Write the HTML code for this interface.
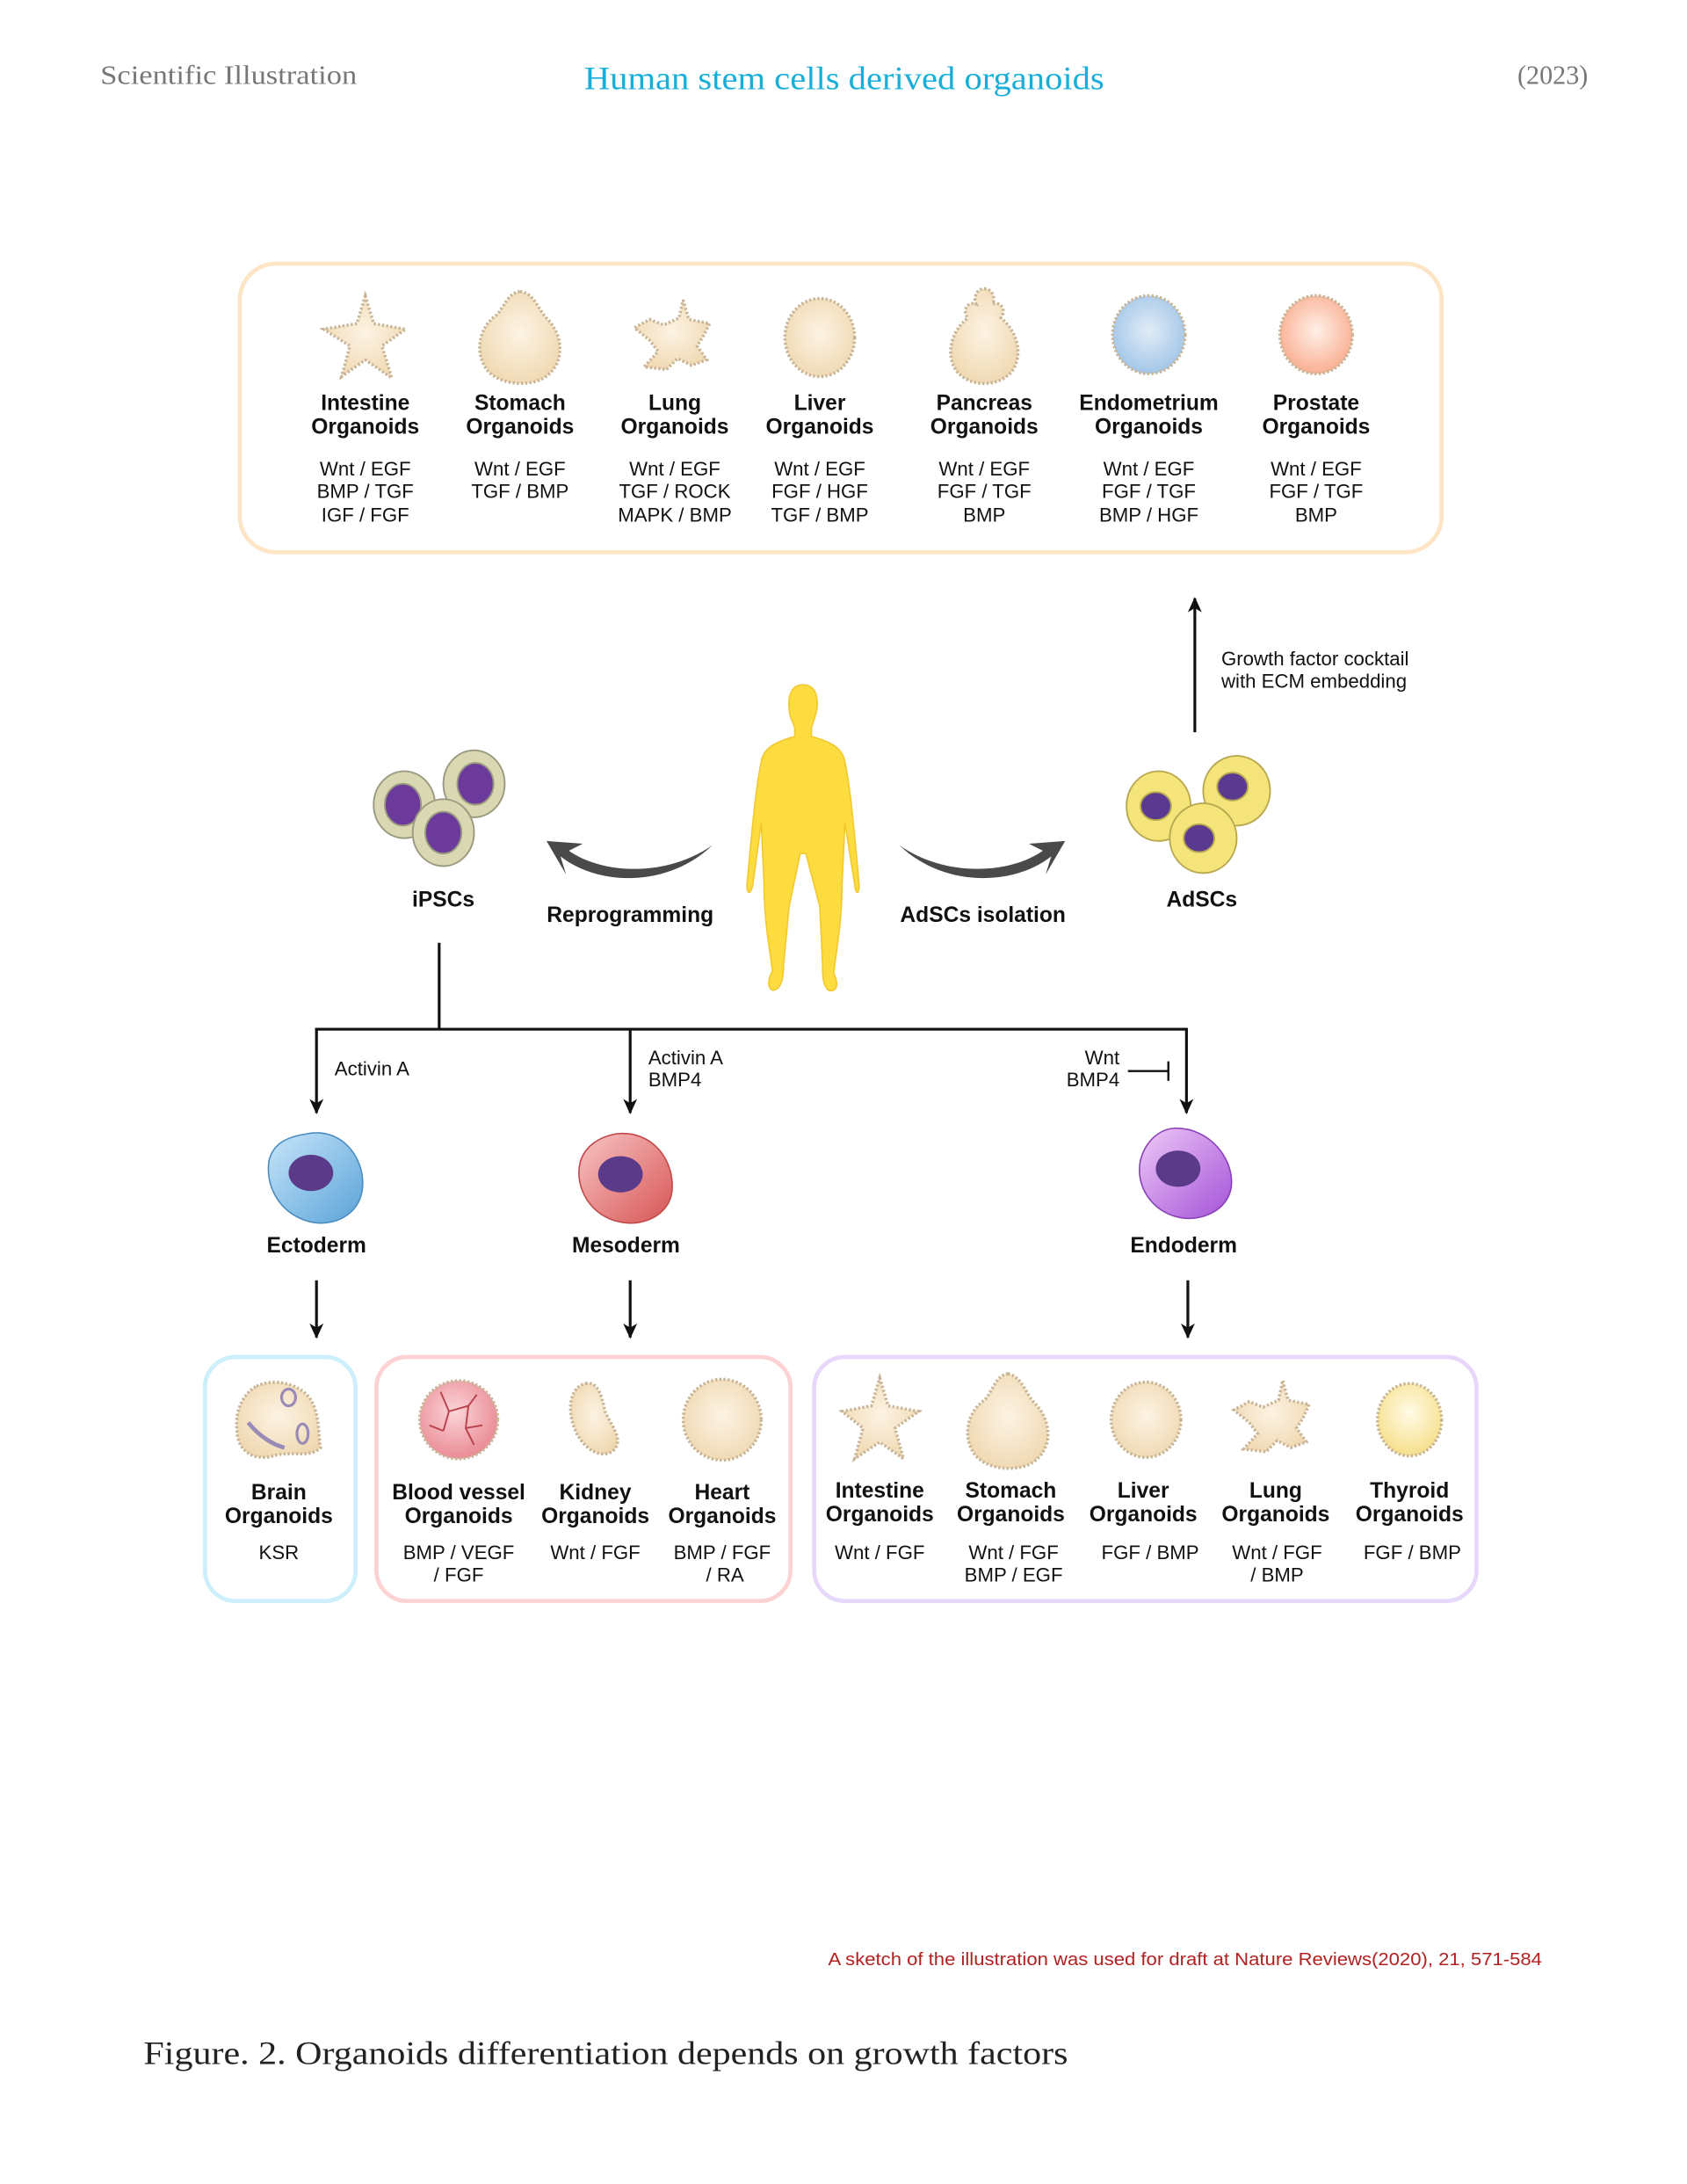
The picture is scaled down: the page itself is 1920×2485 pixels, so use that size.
<!DOCTYPE html>
<html><head><meta charset="utf-8"><style>
html,body{margin:0;padding:0;background:#fff;}
svg{display:block;}
.b{font-family:"Liberation Sans",sans-serif;font-weight:bold;font-size:15.5px;fill:#111;text-anchor:middle;}
.r{font-family:"Liberation Sans",sans-serif;font-size:14px;fill:#111;text-anchor:middle;}
.o{stroke:#c8b496;stroke-width:2.2;stroke-dasharray:1.5 1.5;}
</style></head><body>
<svg width="1920" height="2485" viewBox="0 0 1210 1566" xmlns="http://www.w3.org/2000/svg">
<defs>
<radialGradient id="cr" cx="50%" cy="45%" r="60%"><stop offset="0" stop-color="#fdf3e4"/><stop offset="1" stop-color="#efd8b0"/></radialGradient>
<radialGradient id="bl" cx="50%" cy="45%" r="60%"><stop offset="0" stop-color="#e2ecf6"/><stop offset="1" stop-color="#9cc3e8"/></radialGradient>
<radialGradient id="pr" cx="50%" cy="45%" r="60%"><stop offset="0" stop-color="#fff0e8"/><stop offset="1" stop-color="#f9a98a"/></radialGradient>
<radialGradient id="th" cx="50%" cy="40%" r="60%"><stop offset="0" stop-color="#fffbe6"/><stop offset="1" stop-color="#f6df8a"/></radialGradient>
<radialGradient id="bv" cx="45%" cy="40%" r="60%"><stop offset="0" stop-color="#fbd5d8"/><stop offset="1" stop-color="#ea8b95"/></radialGradient>
<linearGradient id="ec" x1="0" y1="0" x2="1" y2="1"><stop offset="0" stop-color="#c7e5fa"/><stop offset="1" stop-color="#5aa3d8"/></linearGradient>
<linearGradient id="me" x1="0" y1="0" x2="1" y2="1"><stop offset="0" stop-color="#f8c4c4"/><stop offset="1" stop-color="#d85555"/></linearGradient>
<linearGradient id="en" x1="0" y1="0" x2="1" y2="1"><stop offset="0" stop-color="#efc9f7"/><stop offset="1" stop-color="#a452d8"/></linearGradient>
<marker id="ah" markerWidth="11" markerHeight="10" refX="10" refY="5" orient="auto" markerUnits="userSpaceOnUse"><path d="M0,0 L11,5 L0,10 L3,5 Z" fill="#111"/></marker>
</defs>

<text x="72" y="60" font-family="Liberation Serif,serif" font-size="19" fill="#777" textLength="184" lengthAdjust="spacingAndGlyphs">Scientific Illustration</text>
<text x="419" y="64" font-family="Liberation Serif,serif" font-size="23" fill="#17afd9" textLength="373" lengthAdjust="spacingAndGlyphs">Human stem cells derived organoids</text>
<text x="1139" y="60" font-family="Liberation Serif,serif" font-size="19" fill="#777" text-anchor="end">(2023)</text>

<rect x="172" y="189" width="862" height="207" rx="26" fill="none" stroke="#fde5c6" stroke-width="3"/>
<path class="o" fill="url(#cr)" d="M262,212 L268,232 L291,236 L274,248 L281,271 L262,258 L245,270 L251,248 L232,236 L256,232 Z"/>
<path class="o" fill="url(#cr)" d="M373,209 C383,210 386,222 392,228 C404,240 405,258 394,268 C384,278 360,277 350,266 C340,254 343,235 356,226 C362,220 364,210 373,209 Z"/>
<path class="o" fill="url(#cr)" d="M490,215 L494,229 L509,232 L505,240 L500,248 L507,258 L496,262 L486,257 L478,265 L462,263 L472,252 L466,244 L455,235 L466,229 L476,233 L487,228 Z"/>
<ellipse class="o" cx="588" cy="242" rx="25" ry="28" fill="url(#cr)"/>
<path class="o" fill="url(#cr)" d="M706,207 C712,207 714,214 712,218 C718,216 722,222 718,228 C730,238 734,254 726,266 C716,278 696,278 686,266 C678,254 682,238 694,228 C690,222 694,216 700,218 C698,214 700,207 706,207 Z"/>
<ellipse class="o" cx="824" cy="240" rx="26" ry="28" fill="url(#bl)"/>
<ellipse class="o" cx="944" cy="240" rx="26" ry="28" fill="url(#pr)"/>
<g class="b">
<text x="262" y="294">Intestine</text><text x="262" y="311">Organoids</text>
<text x="373" y="294">Stomach</text><text x="373" y="311">Organoids</text>
<text x="484" y="294">Lung</text><text x="484" y="311">Organoids</text>
<text x="588" y="294">Liver</text><text x="588" y="311">Organoids</text>
<text x="706" y="294">Pancreas</text><text x="706" y="311">Organoids</text>
<text x="824" y="294">Endometrium</text><text x="824" y="311">Organoids</text>
<text x="944" y="294">Prostate</text><text x="944" y="311">Organoids</text>
</g>
<g class="r">
<text x="262" y="341">Wnt / EGF</text><text x="262" y="357">BMP / TGF</text><text x="262" y="374">IGF / FGF</text>
<text x="373" y="341">Wnt / EGF</text><text x="373" y="357">TGF / BMP</text>
<text x="484" y="341">Wnt / EGF</text><text x="484" y="357">TGF / ROCK</text><text x="484" y="374">MAPK / BMP</text>
<text x="588" y="341">Wnt / EGF</text><text x="588" y="357">FGF / HGF</text><text x="588" y="374">TGF / BMP</text>
<text x="706" y="341">Wnt / EGF</text><text x="706" y="357">FGF / TGF</text><text x="706" y="374">BMP</text>
<text x="824" y="341">Wnt / EGF</text><text x="824" y="357">FGF / TGF</text><text x="824" y="374">BMP / HGF</text>
<text x="944" y="341">Wnt / EGF</text><text x="944" y="357">FGF / TGF</text><text x="944" y="374">BMP</text>
</g>

<line x1="857" y1="525" x2="857" y2="429" stroke="#111" stroke-width="2" marker-end="url(#ah)"/>
<text x="876" y="477" font-family="Liberation Sans,sans-serif" font-size="14" fill="#111">Growth factor cocktail</text>
<text x="876" y="493" font-family="Liberation Sans,sans-serif" font-size="14" fill="#111">with ECM embedding</text>

<path fill="#fddc3f" stroke="#f2c830" stroke-width="1" d="M576,491 C584,491 587,498 586,508 C585,514 583,518 582,522 L582,528 C596,532 604,536 606,546 C610,566 612,590 614,610 L616,632 C617,640 614,644 613,634 L606,590 L604,634 C604,660 600,680 598,698 C602,706 600,712 594,710 C590,706 590,700 590,692 L588,650 L578,612 L574,612 L566,650 L562,692 C562,702 560,710 554,710 C550,708 551,702 554,696 C552,680 548,660 548,634 L546,590 L540,634 C538,644 535,640 536,632 L538,610 C540,590 542,566 546,546 C548,536 556,532 570,528 L570,522 C569,518 566,514 566,508 C565,498 568,491 576,491 Z"/>

<g stroke="#9a9a80" stroke-width="1.2">
<ellipse cx="290" cy="577" rx="22" ry="24" fill="#d9d8b2"/><ellipse cx="289" cy="577" rx="13" ry="15" fill="#6b3a9a"/>
<ellipse cx="340" cy="562" rx="22" ry="24" fill="#d9d8b2"/><ellipse cx="341" cy="562" rx="13" ry="15" fill="#6b3a9a"/>
<ellipse cx="318" cy="597" rx="22" ry="24" fill="#d9d8b2"/><ellipse cx="318" cy="597" rx="13" ry="15" fill="#6b3a9a"/>
</g>
<text class="b" x="318" y="650">iPSCs</text>
<g stroke="#b8a850" stroke-width="1.2">
<ellipse cx="831" cy="578" rx="23" ry="25" fill="#f5e47a"/><ellipse cx="829" cy="578" rx="11" ry="10" fill="#5a3a90"/>
<ellipse cx="887" cy="567" rx="24" ry="25" fill="#f5e47a"/><ellipse cx="884" cy="564" rx="11" ry="10" fill="#5a3a90"/>
<ellipse cx="863" cy="601" rx="24" ry="25" fill="#f5e47a"/><ellipse cx="860" cy="601" rx="11" ry="10" fill="#5a3a90"/>
</g>
<text class="b" x="862" y="650">AdSCs</text>

<path d="M511,606 C480,636 430,636 402,614 L406,627 L392,603 L418,605 L408,610 C434,628 480,628 511,606 Z" fill="#4a4a4a"/>
<path d="M645,606 C676,636 726,636 754,614 L750,627 L764,603 L738,605 L748,610 C722,628 676,628 645,606 Z" fill="#4a4a4a"/>
<text class="b" x="452" y="661">Reprogramming</text>
<text class="b" x="705" y="661">AdSCs isolation</text>

<g stroke="#111" stroke-width="2" fill="none">
<line x1="315" y1="676" x2="315" y2="738"/>
<line x1="226" y1="738" x2="851" y2="738"/>
<line x1="227" y1="737" x2="227" y2="798" marker-end="url(#ah)"/>
<line x1="452" y1="737" x2="452" y2="798" marker-end="url(#ah)"/>
<line x1="851" y1="737" x2="851" y2="798" marker-end="url(#ah)"/>
<line x1="809" y1="768" x2="838" y2="768" stroke-width="1.5"/>
<line x1="838" y1="761" x2="838" y2="775" stroke-width="1.5"/>
<line x1="227" y1="918" x2="227" y2="959" marker-end="url(#ah)"/>
<line x1="452" y1="918" x2="452" y2="959" marker-end="url(#ah)"/>
<line x1="852" y1="918" x2="852" y2="959" marker-end="url(#ah)"/>
</g>
<g font-family="Liberation Sans,sans-serif" font-size="14" fill="#111">
<text x="240" y="771">Activin A</text>
<text x="465" y="763">Activin A</text><text x="465" y="779">BMP4</text>
<text x="803" y="763" text-anchor="end">Wnt</text><text x="803" y="779" text-anchor="end">BMP4</text>
</g>

<path d="M220,813 C245,808 262,830 260,852 C258,872 238,880 222,876 C200,870 190,850 193,832 C196,820 206,815 220,813 Z" fill="url(#ec)" stroke="#4a8cc0"/>
<ellipse cx="223" cy="841" rx="16" ry="13" fill="#5b3a8a"/>
<path d="M442,813 C468,810 484,832 482,854 C480,872 460,880 444,876 C424,872 412,852 416,834 C419,822 430,815 442,813 Z" fill="url(#me)" stroke="#c04848"/>
<ellipse cx="445" cy="842" rx="16" ry="13" fill="#5b3a8a"/>
<path d="M842,809 C868,808 886,832 883,852 C880,868 862,876 846,873 C826,869 814,850 818,832 C821,820 830,810 842,809 Z" fill="url(#en)" stroke="#8a40b8"/>
<ellipse cx="845" cy="838" rx="16" ry="13" fill="#5b3a8a"/>
<g class="b"><text x="227" y="898">Ectoderm</text><text x="449" y="898">Mesoderm</text><text x="849" y="898">Endoderm</text></g>

<rect x="147" y="973" width="108" height="175" rx="22" fill="none" stroke="#cdeefb" stroke-width="3"/>
<rect x="270" y="973" width="297" height="175" rx="22" fill="none" stroke="#fcd2d2" stroke-width="3"/>
<rect x="584" y="973" width="475" height="175" rx="22" fill="none" stroke="#e7d8fb" stroke-width="3"/>

<path class="o" fill="url(#cr)" d="M184,994 C196,988 212,992 220,1000 C230,1010 228,1030 230,1038 C222,1046 210,1040 196,1044 C182,1048 170,1040 170,1026 C168,1010 176,998 184,994 Z"/>
<path d="M178,1020 C186,1030 196,1036 204,1038" stroke="#9a8ab8" stroke-width="3" fill="none"/>
<ellipse cx="207" cy="1002" rx="5" ry="6" fill="none" stroke="#9a8ab8" stroke-width="2"/>
<ellipse cx="217" cy="1028" rx="4" ry="7" fill="none" stroke="#9a8ab8" stroke-width="2"/>
<circle class="o" cx="329" cy="1018" r="28" fill="url(#bv)"/>
<path d="M316,998 L322,1012 L318,1026 M322,1012 L336,1008 L342,1000 M336,1008 L334,1024 L340,1036 M318,1026 L308,1022 M334,1024 L346,1022" stroke="#b8404a" stroke-width="1.2" fill="none"/>
<path class="o" fill="url(#cr)" d="M420,992 C430,990 432,1004 434,1012 C438,1022 448,1032 440,1040 C430,1048 416,1036 412,1024 C406,1008 410,994 420,992 Z"/>
<ellipse class="o" cx="518" cy="1018" rx="28" ry="29" fill="url(#cr)"/>
<path class="o" fill="url(#cr)" d="M631,988 L637,1008 L659,1012 L642,1024 L648,1046 L631,1034 L613,1046 L619,1024 L604,1012 L625,1008 Z"/>
<path class="o" fill="url(#cr)" d="M723,985 C733,987 736,1000 742,1006 C754,1018 755,1036 744,1046 C734,1056 710,1055 700,1044 C690,1032 693,1013 706,1004 C712,998 714,986 723,985 Z"/>
<ellipse class="o" cx="822" cy="1018" rx="25" ry="27" fill="url(#cr)"/>
<path class="o" fill="url(#cr)" d="M920,990 L924,1004 L939,1007 L935,1016 L930,1024 L937,1034 L926,1038 L916,1033 L908,1041 L892,1039 L902,1028 L896,1020 L885,1011 L896,1005 L906,1009 L917,1004 Z"/>
<ellipse class="o" cx="1011" cy="1018" rx="23" ry="26" fill="url(#th)"/>

<g class="b">
<text x="200" y="1075">Brain</text><text x="200" y="1092">Organoids</text>
<text x="329" y="1075">Blood vessel</text><text x="329" y="1092">Organoids</text>
<text x="427" y="1075">Kidney</text><text x="427" y="1092">Organoids</text>
<text x="518" y="1075">Heart</text><text x="518" y="1092">Organoids</text>
<text x="631" y="1074">Intestine</text><text x="631" y="1091">Organoids</text>
<text x="725" y="1074">Stomach</text><text x="725" y="1091">Organoids</text>
<text x="820" y="1074">Liver</text><text x="820" y="1091">Organoids</text>
<text x="915" y="1074">Lung</text><text x="915" y="1091">Organoids</text>
<text x="1011" y="1074">Thyroid</text><text x="1011" y="1091">Organoids</text>
</g>
<g class="r">
<text x="200" y="1118">KSR</text>
<text x="329" y="1118">BMP / VEGF</text><text x="329" y="1134">/ FGF</text>
<text x="427" y="1118">Wnt / FGF</text>
<text x="518" y="1118">BMP / FGF</text><text x="520" y="1134">/ RA</text>
<text x="631" y="1118">Wnt / FGF</text>
<text x="727" y="1118">Wnt / FGF</text><text x="727" y="1134">BMP / EGF</text>
<text x="825" y="1118">FGF / BMP</text>
<text x="916" y="1118">Wnt / FGF</text><text x="916" y="1134">/ BMP</text>
<text x="1013" y="1118">FGF / BMP</text>
</g>

<text x="594" y="1409" font-family="Liberation Sans,sans-serif" font-size="13" fill="#b22020" textLength="512" lengthAdjust="spacingAndGlyphs">A sketch of the illustration was used for draft at Nature Reviews(2020), 21, 571-584</text>
<text x="103" y="1480" font-family="Liberation Serif,serif" font-size="23" fill="#222" textLength="663" lengthAdjust="spacingAndGlyphs">Figure. 2. Organoids differentiation depends on growth factors</text>
</svg>
</body></html>
